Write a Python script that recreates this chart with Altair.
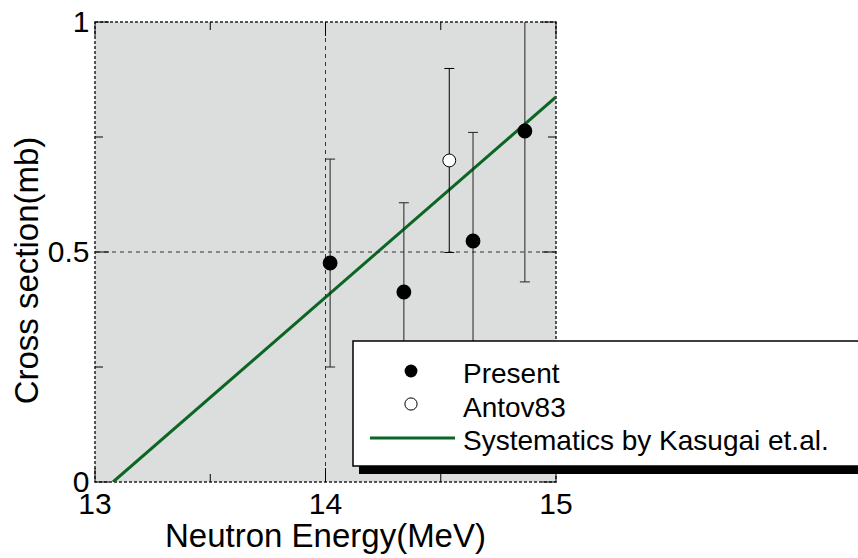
import altair as alt
import pandas as pd

# ---- data ----
present_x = [14.02, 14.34, 14.64, 14.865]
present_y = [0.476, 0.413, 0.524, 0.763]
present_lo = [0.250, 0.220, 0.290, 0.435]
present_hi = [0.702, 0.607, 0.760, 1.100]

antov_x = [14.537]
antov_y = [0.699]
antov_lo = [0.499]
antov_hi = [0.899]

syst_x = [13.078, 15.0]
syst_y = [0.0, 0.837]

x_ticks_major = [13, 14, 15]
x_tick_labels = ["13", "14", "15"]
x_ticks_minor = [13.5, 14.5]
y_ticks_major = [0, 0.5, 1]
y_ticks_minor = [0.25, 0.75]
x_grid = [14]
y_grid = [0.5]

legend_labels = ["Present", "Antov83", "Systematics by Kasugai et.al."]

FONT = "Liberation Sans"
GREEN = "#0b6623"
W, H = 461, 460

xs = alt.Scale(domain=[13, 15], nice=False, zero=False)
ys = alt.Scale(domain=[0, 1], nice=False, zero=False)

AX = alt.Axis(
    values=x_ticks_major, labels=False, ticks=False, domain=False, grid=False,
    title="Neutron Energy(MeV)", titleFontSize=33, titleFont=FONT,
    titleFontWeight="normal", titleColor="black",
    titleX=230, titleY=64, titleBaseline="alphabetic", titleAlign="center")
AY = alt.Axis(
    values=y_ticks_major, format="~g", ticks=False, domain=False, grid=False,
    labelFontSize=30, labelColor="black", labelFont=FONT, labelPadding=6,
    labelFlush=False, labelOverlap=False, labelBound=False,
    title="Cross section(mb)", titleFontSize=33, titleFont=FONT,
    titleFontWeight="normal", titleColor="black",
    titleX=-68, titleY=248, titleAngle=270, titleBaseline="middle",
    titleAlign="center")


def X(field):
    return alt.X(field, scale=xs, axis=AX)


def Y(field):
    return alt.Y(field, scale=ys, axis=AY)


present = pd.DataFrame({"x": present_x, "y": present_y, "lo": present_lo, "hi": present_hi})
present["x2"] = present["x"]
antov = pd.DataFrame({"x": antov_x, "y": antov_y, "lo": antov_lo, "hi": antov_hi})
antov["x2"] = antov["x"]
syst = pd.DataFrame({"x": syst_x, "y": syst_y})
one = pd.DataFrame({"a": [0]})

syst_line = alt.Chart(syst).mark_line(color=GREEN, strokeWidth=3, clip=True).encode(
    x=X("x:Q"), y=Y("y:Q"))

# x tick labels as text placed through the x scale
x_labels = alt.Chart(pd.DataFrame({"x": x_ticks_major, "lab": x_tick_labels})).mark_text(
    font=FONT, fontSize=30, color="black", align="center", baseline="alphabetic").encode(
    x=X("x:Q"), y=alt.value(H + 32), text="lab:N")

# dashed grid lines
gx = alt.Chart(pd.DataFrame({"x": x_grid})).mark_rule(
    color="#333333", strokeWidth=1, strokeDash=[4, 4]).encode(x=X("x:Q"))
gy = alt.Chart(pd.DataFrame({"y": y_grid})).mark_rule(
    color="#333333", strokeWidth=1, strokeDash=[4, 4]).encode(y=Y("y:Q"))


def xticks(vals, length):
    d = pd.DataFrame({"x": vals})
    bottom = alt.Chart(d).mark_rule(color="black", strokeWidth=1).encode(
        x=X("x:Q"), y=alt.value(H), y2=alt.value(H - length))
    top = alt.Chart(d).mark_rule(color="black", strokeWidth=1).encode(
        x=X("x:Q"), y=alt.value(0), y2=alt.value(length))
    return [bottom, top]


def yticks(vals, length):
    d = pd.DataFrame({"y": vals})
    left = alt.Chart(d).mark_rule(color="black", strokeWidth=1).encode(
        y=Y("y:Q"), x=alt.value(0), x2=alt.value(length))
    right = alt.Chart(d).mark_rule(color="black", strokeWidth=1).encode(
        y=Y("y:Q"), x=alt.value(W), x2=alt.value(W - length))
    return [left, right]


tick_layers = xticks(x_ticks_major, 14) + xticks(x_ticks_minor, 8) + \
    yticks(y_ticks_major, 14) + yticks(y_ticks_minor, 8)


def errorbars(df, color):
    bar = alt.Chart(df).mark_rule(color=color, strokeWidth=1, clip=True).encode(
        x=X("x:Q"), y=Y("lo:Q"), y2="hi:Q")
    cap_hi = alt.Chart(df).mark_rule(color=color, strokeWidth=1, clip=True,
                                     xOffset=-5, x2Offset=5).encode(
        x=X("x:Q"), x2="x2:Q", y=Y("hi:Q"))
    cap_lo = alt.Chart(df).mark_rule(color=color, strokeWidth=1, clip=True,
                                     xOffset=-5, x2Offset=5).encode(
        x=X("x:Q"), x2="x2:Q", y=Y("lo:Q"))
    return [bar, cap_hi, cap_lo]


present_pts = alt.Chart(present).mark_point(
    shape="circle", filled=True, fill="black", stroke="black", size=165, opacity=1).encode(
    x=X("x:Q"), y=Y("y:Q"))
antov_pts = alt.Chart(antov).mark_point(
    shape="circle", filled=True, fill="white", stroke="black", strokeWidth=1,
    size=165, opacity=1).encode(x=X("x:Q"), y=Y("y:Q"))

# ---- legend box (drawn as marks) ----
shadow = alt.Chart(one).mark_rect(fill="black").encode(
    x=alt.value(264), x2=alt.value(800), y=alt.value(325), y2=alt.value(452))
box = alt.Chart(one).mark_rect(fill="white", stroke="black", strokeWidth=1.5).encode(
    x=alt.value(258), x2=alt.value(795), y=alt.value(319), y2=alt.value(444))
leg_p = alt.Chart(one).mark_point(shape="circle", filled=True, fill="black",
                                   size=165, opacity=1).encode(
    x=alt.value(316), y=alt.value(349))
leg_a = alt.Chart(one).mark_point(shape="circle", filled=True, fill="white",
                                   stroke="black", strokeWidth=1, size=150, opacity=1).encode(
    x=alt.value(316), y=alt.value(382))
leg_l = alt.Chart(one).mark_rule(color=GREEN, strokeWidth=3).encode(
    x=alt.value(275), x2=alt.value(360), y=alt.value(416))
leg_texts = [
    alt.Chart(one).mark_text(text=lab, font=FONT, fontSize=28, color="black",
                             align="left", baseline="alphabetic").encode(
        x=alt.value(368), y=alt.value(yy))
    for lab, yy in zip(legend_labels, [361, 394.5, 428])
]

layers = [syst_line, gx, gy] + tick_layers + errorbars(present, "#222222") + \
    errorbars(antov, "black") + [present_pts, antov_pts, shadow, box, leg_p, leg_a, leg_l] + \
    leg_texts + [x_labels]

chart = alt.layer(*layers).properties(
    width=W, height=H,
    padding={"left": 95, "top": 22, "right": 302, "bottom": 76},
    autosize=alt.AutoSizeParams(type="none"),
).configure(
    font=FONT, background="white",
    view=alt.ViewConfig(fill="#dcdddd", stroke="#222222", strokeWidth=1.5,
                        strokeDash=[3, 2]),
)

chart.save("out.html", embed_options={"renderer": "svg", "actions": False})
